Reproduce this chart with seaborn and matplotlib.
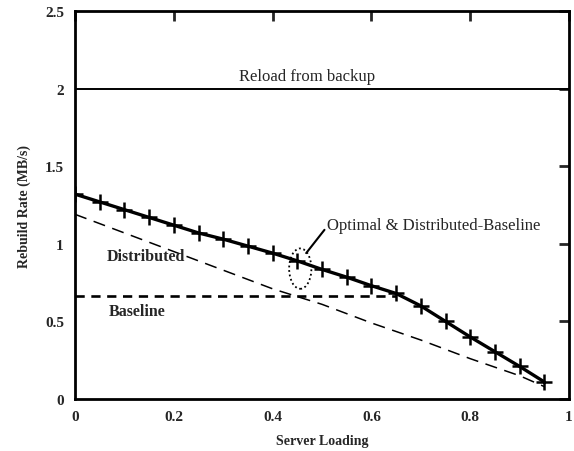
import matplotlib
matplotlib.use("Agg")
import matplotlib.pyplot as plt
import seaborn as sns
import pandas as pd
import numpy as np
from matplotlib.patches import Ellipse

sns.set_theme(style="white")
plt.rcParams['font.family'] = ['Liberation Serif', 'DejaVu Serif']

# Data
opt_x = [0.0, 0.05, 0.1, 0.15, 0.2, 0.25, 0.3, 0.35, 0.4, 0.45, 0.5, 0.55, 0.6, 0.65,
         0.7, 0.75, 0.8, 0.85, 0.9, 0.95]
opt_y = [1.32, 1.27, 1.22, 1.17, 1.12, 1.07, 1.03, 0.985, 0.94, 0.89, 0.835, 0.785, 0.73, 0.68,
         0.60, 0.50, 0.40, 0.305, 0.21, 0.11]
dist_x = [0.0, 0.1, 0.2, 0.3, 0.4, 0.5, 0.6, 0.7, 0.8, 0.9, 0.95]
dist_y = [1.19, 1.07, 0.95, 0.83, 0.71, 0.61, 0.49, 0.38, 0.26, 0.15, 0.08]
base_x = [0.0, 0.65]
base_y = [0.665, 0.665]
reload_x = [0.0, 1.0]
reload_y = [2.0, 2.0]

xticks = [0, 0.2, 0.4, 0.6, 0.8, 1]
xticklabels = ["0", "0.2", "0.4", "0.6", "0.8", "1"]
yticks = [0, 0.5, 1, 1.5, 2, 2.5]
yticklabels = ["0", "0.5", "1", "1.5", "2", "2.5"]

fig = plt.figure(figsize=(5.74, 4.52), dpi=100)
ax = fig.add_axes([75/574, 1-400/452, (569-75)/574, (400-12)/452])

sns.lineplot(x=reload_x, y=reload_y, ax=ax, color="black", linewidth=1.4)
sns.lineplot(x=dist_x, y=dist_y, ax=ax, color="black", linewidth=1.1,
             linestyle=(0, (8, 5)))
sns.lineplot(x=base_x, y=base_y, ax=ax, color="black", linewidth=1.9,
             linestyle=(0, (3.5, 2.5)))
sns.lineplot(x=opt_x, y=opt_y, ax=ax, color="black", linewidth=2.4,
             marker="+", markersize=11, markeredgewidth=1.8, markeredgecolor="black")

ax.set_xlim(0, 1)
ax.set_ylim(0, 2.5)
ax.set_xticks(xticks)
ax.set_xticklabels(xticklabels)
ax.set_yticks(yticks)
ax.set_yticklabels(yticklabels)
ax.tick_params(direction="in", length=7, width=2, top=True, right=True,
               labelsize=11, pad=8)
for lab in ax.get_xticklabels() + ax.get_yticklabels():
    lab.set_fontweight("bold")
for s in ax.spines.values():
    s.set_linewidth(2)
    s.set_color("black")

ax.set_xlabel("Server Loading", fontsize=10, fontweight="bold", labelpad=8)
ax.set_ylabel("Rebuild Rate (MB/s)", fontsize=10, fontweight="bold", labelpad=10)

ax.text(0.47, 2.03, "Reload from backup", ha="center", va="bottom", fontsize=12)
ax.text(0.065, 0.92, "Distributed", ha="left", va="center", fontsize=11.5, fontweight="bold")
ax.text(0.068, 0.57, "Baseline", ha="left", va="center", fontsize=11.5, fontweight="bold")
ax.text(0.51, 1.12, "Optimal & Distributed-Baseline", ha="left", va="center", fontsize=12)

ax.add_patch(Ellipse((0.456, 0.84), 0.045, 0.26, fill=False, linestyle=(0, (1, 1.5)),
                     linewidth=1.3, edgecolor="black"))
ax.plot([0.468, 0.505], [0.94, 1.09], color="black", linewidth=1.5)

fig.savefig("out.png", dpi=100)
